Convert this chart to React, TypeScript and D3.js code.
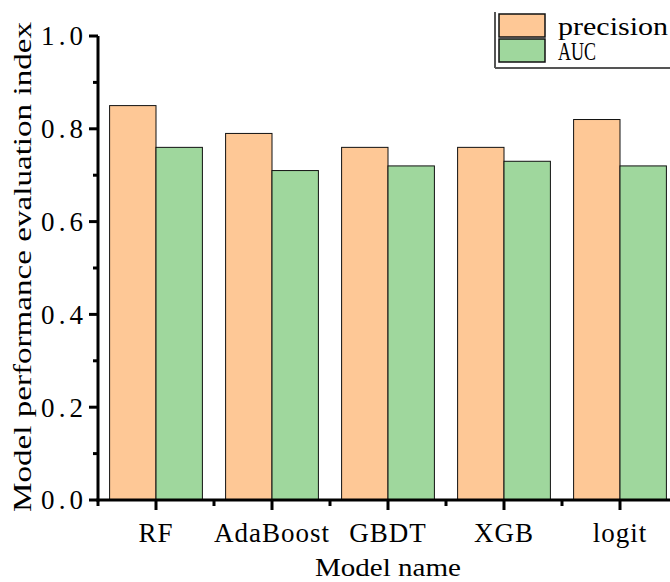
import React from "react";
import * as d3 from "d3";

// values
const models = ["RF", "AdaBoost", "GBDT", "XGB", "logit"];
const precision = [0.85, 0.79, 0.76, 0.76, 0.82];
const auc = [0.76, 0.71, 0.72, 0.73, 0.72];
const seriesNames = ["precision", "AUC"];
const yTicks = [0, 0.2, 0.4, 0.6, 0.8, 1.0];

const colors = ["#FEC896", "#9FD79D"];
const font = "'Liberation Serif', serif";

const width = 670;
const height = 582;
const margin = { top: 36, right: -8, bottom: 82, left: 98 };

const App = () => {
  const x = d3
    .scaleBand<string>()
    .domain(models)
    .range([margin.left, width - margin.right])
    .paddingInner(0.2)
    .paddingOuter(0.1);

  const xSub = d3
    .scaleBand<string>()
    .domain(seriesNames)
    .range([0, x.bandwidth()]);

  const y = d3
    .scaleLinear()
    .domain([0, 1])
    .range([height - margin.bottom, margin.top]);

  const series = [precision, auc];
  const y0 = y(0);
  const minorY = d3.range(0.1, 1.0, 0.2);
  const step = x.step();
  const minorX = d3.range(models.length + 1).map((i) => margin.left + i * step);
  const legendWidths = [110, 38];

  return (
    <svg
      width={width}
      height={height}
      style={{ position: "absolute", left: 0, top: 0, background: "#fff" }}
      fontFamily={font}
    >
      {/* bars */}
      <g>
        {models.map((m, i) => (
          <g key={m} transform={`translate(${x(m)},0)`}>
            {seriesNames.map((s, j) => (
              <rect
                key={s}
                x={xSub(s)}
                y={y(series[j][i])}
                width={xSub.bandwidth()}
                height={y0 - y(series[j][i])}
                fill={colors[j]}
                stroke="#111"
                strokeWidth={1}
              />
            ))}
          </g>
        ))}
      </g>

      {/* y axis */}
      <g>
        <line x1={margin.left} x2={margin.left} y1={margin.top} y2={y0 + 1.5} stroke="#000" strokeWidth={3} />
        {yTicks.map((t) => (
          <g key={t}>
            <line x1={margin.left - 9} x2={margin.left} y1={y(t)} y2={y(t)} stroke="#000" strokeWidth={3} />
            <text
              x={margin.left - 15}
              y={y(t)}
              dy="0.35em"
              textAnchor="end"
              fontSize={27}
              textLength={42}
              lengthAdjust="spacing"
            >
              {t.toFixed(1)}
            </text>
          </g>
        ))}
        {minorY.map((t) => (
          <line key={t} x1={margin.left - 5} x2={margin.left} y1={y(t)} y2={y(t)} stroke="#000" strokeWidth={3} />
        ))}
        <text
          transform={`translate(31,${(margin.top + y0) / 2 - 1}) rotate(-90)`}
          textAnchor="middle"
          fontSize={26}
          textLength={490}
          lengthAdjust="spacingAndGlyphs"
        >
          Model performance evaluation index
        </text>
      </g>

      {/* x axis */}
      <g>
        <line x1={margin.left - 1.5} x2={width} y1={y0} y2={y0} stroke="#000" strokeWidth={3} />
        {models.map((m) => {
          const cx = (x(m) as number) + x.bandwidth() / 2;
          return (
            <g key={m}>
              <line x1={cx} x2={cx} y1={y0} y2={y0 + 10} stroke="#000" strokeWidth={3} />
              <text x={cx} y={y0 + 42} textAnchor="middle" fontSize={27} letterSpacing={1}>
                {m}
              </text>
            </g>
          );
        })}
        {minorX.map((mx) => (
          <line key={mx} x1={mx} x2={mx} y1={y0} y2={y0 + 6} stroke="#000" strokeWidth={3} />
        ))}
        <text
          x={(margin.left + 678) / 2}
          y={height - 6}
          textAnchor="middle"
          fontSize={26}
          textLength={146}
          lengthAdjust="spacingAndGlyphs"
        >
          Model name
        </text>
      </g>

      {/* legend */}
      <g>
        <line x1={495} x2={495} y1={12} y2={68} stroke="#555" strokeWidth={2} />
        <line x1={495} x2={width} y1={68} y2={68} stroke="#555" strokeWidth={2} />
        {seriesNames.map((s, j) => (
          <g key={s} transform={`translate(499,${14 + j * 25})`}>
            <rect width={46} height={23} fill={colors[j]} stroke="#111" strokeWidth={1.5} />
            <text
              x={59}
              y={12}
              dy="0.35em"
              fontSize={25}
              textLength={legendWidths[j]}
              lengthAdjust="spacingAndGlyphs"
            >
              {s}
            </text>
          </g>
        ))}
      </g>
    </svg>
  );
};

export default App;
